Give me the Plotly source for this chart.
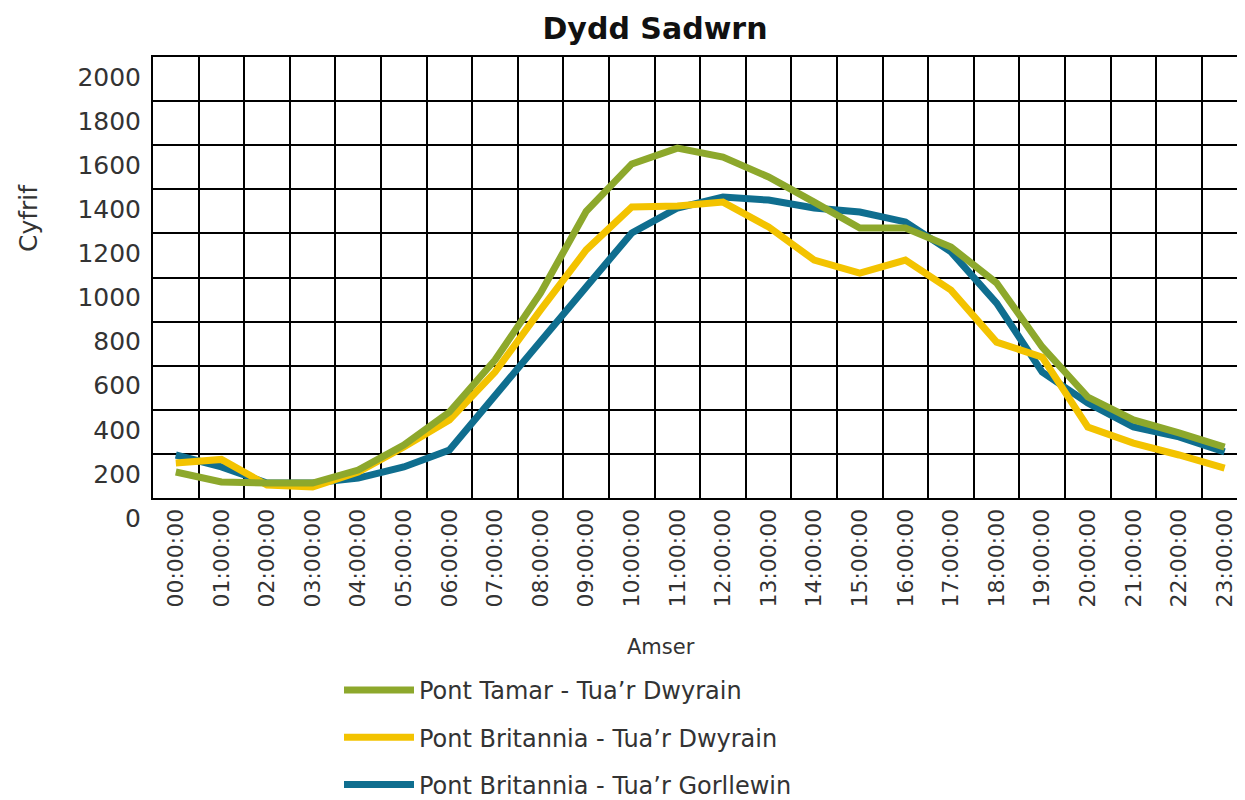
import plotly.graph_objects as go

times = ["00:00:00", "01:00:00", "02:00:00", "03:00:00", "04:00:00", "05:00:00",
         "06:00:00", "07:00:00", "08:00:00", "09:00:00", "10:00:00", "11:00:00",
         "12:00:00", "13:00:00", "14:00:00", "15:00:00", "16:00:00", "17:00:00",
         "18:00:00", "19:00:00", "20:00:00", "21:00:00", "22:00:00", "23:00:00"]

tamar_east = [118, 73, 68, 68, 127, 240, 390, 626, 930, 1300, 1515, 1587,
              1546, 1456, 1342, 1224, 1224, 1138, 975, 685, 458, 354, 295, 231]
britannia_east = [159, 175, 59, 50, 118, 231, 354, 571, 853, 1125, 1320, 1324,
                  1342, 1229, 1079, 1020, 1079, 943, 707, 639, 322, 249, 195, 136]
britannia_west = [195, 141, 68, 68, 90, 141, 218, 467, 717, 957, 1202, 1315,
                  1365, 1351, 1315, 1297, 1252, 1116, 884, 571, 431, 322, 277, 209]

y_ticks = [0, 200, 400, 600, 800, 1000, 1200, 1400, 1600, 1800, 2000]

names = ["Pont Tamar - Tua’r Dwyrain", "Pont Britannia - Tua’r Dwyrain",
         "Pont Britannia - Tua’r Gorllewin"]
colors = ["#8DA82C", "#F3C300", "#0F6E8F"]

FONT = "DejaVu Sans"
TXT = "#333333"

OFF = 8  # page body margin
W, H = 1245, 800
ML, MT = 153 - OFF, 57 - OFF
MB = H - (498 - OFF)
MR = 0
PH = H - MT - MB
PW = W - ML - MR


def py(ypix):  # page pixel -> paper y
    return (H - MB - (ypix - OFF)) / PH


def px(xpix):  # page pixel -> paper x
    return (xpix - OFF - ML) / PW


CELL = 45.6
x_hi = -0.5 + PW / CELL

fig = go.Figure()
all_series = [tamar_east, britannia_east, britannia_west]
for idx in [2, 1, 0]:
    fig.add_trace(go.Scatter(
        x=times, y=all_series[idx], mode="lines", name=names[idx],
        line=dict(color=colors[idx], width=7),
        legendgroup=f"g{idx}", legendrank=idx + 1,
    ))

fig.update_layout(
    width=W, height=H,
    margin=dict(l=ML, r=MR, t=MT, b=MB, autoexpand=False),
    paper_bgcolor="white", plot_bgcolor="white",
    font=dict(family=FONT, color=TXT, size=20),
    title=dict(text="<b>Dydd Sadwrn</b>", x=(655 - OFF) / W, xref="container", xanchor="center",
               y=1 - (28 - OFF) / H, yref="container", yanchor="middle",
               font=dict(family=FONT, size=30, color="#111111")),
    xaxis=dict(
        type="category", range=[-0.5, x_hi], tickson="boundaries", automargin=False,
        showgrid=True, gridcolor="black", gridwidth=2,
        showline=True, mirror=True, linecolor="black", linewidth=2,
        ticks="", tickangle=-90, tickfont=dict(size=22, color=TXT),
    ),
    yaxis=dict(
        range=[0, 2000], tickvals=y_ticks, ticktext=[str(v) for v in y_ticks],
        automargin=False,
        showgrid=True, gridcolor="black", gridwidth=2,
        zeroline=False, showline=True, linecolor="black", linewidth=2,
        ticks="", tickfont=dict(size=25, color=TXT),
        ticklabelshift=20, ticklabelstandoff=5,
    ),
    legend=dict(
        x=px(339), y=py(668), xanchor="left", yanchor="top",
        font=dict(size=24, color=TXT), itemwidth=70, tracegroupgap=13,
        bgcolor="rgba(0,0,0,0)",
    ),
    showlegend=True,
    annotations=[
        dict(text="Amser", x=px(661), y=py(647), xref="paper", yref="paper",
             showarrow=False, font=dict(size=21, color=TXT), xanchor="center", yanchor="middle"),
        dict(text="Cyfrif", x=px(28), y=py(218), xref="paper", yref="paper",
             showarrow=False, textangle=-90, font=dict(size=25, color=TXT),
             xanchor="center", yanchor="middle"),
    ],
)

fig.write_html("out.html")
